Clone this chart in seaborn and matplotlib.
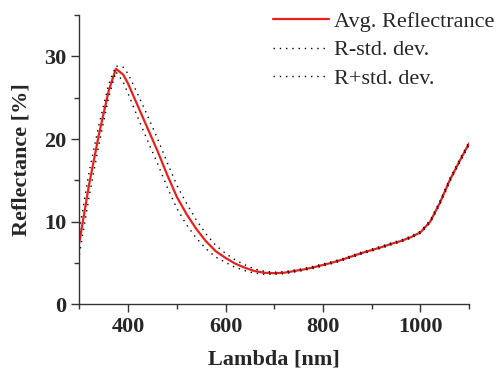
import matplotlib
matplotlib.use("Agg")
import matplotlib.pyplot as plt
import pandas as pd
import seaborn as sns
from matplotlib.ticker import MultipleLocator

# wavelength [nm], average reflectance [%] and standard deviation
wavelength = [300, 320, 340, 360, 375, 390, 400, 420, 440, 460, 480, 500, 520, 540,
              560, 580, 600, 620, 640, 660, 680, 700, 720, 740, 760, 780, 800, 820,
              840, 860, 880, 900, 920, 940, 960, 980, 1000, 1020, 1040, 1060, 1080, 1100]
avg_refl = [7.5, 14.5, 20.5, 25.8, 28.5, 27.8, 26.7, 24.0, 21.3, 18.6, 15.7, 13.0, 10.9,
            9.1, 7.6, 6.4, 5.6, 4.9, 4.4, 4.0, 3.8, 3.75, 3.8, 4.0, 4.2, 4.45, 4.75, 5.05,
            5.4, 5.8, 6.2, 6.55, 6.9, 7.3, 7.65, 8.1, 8.7, 10.0, 12.3, 15.0, 17.3, 19.5]
std_dev = [1.5, 1.5, 1.2, 0.8, 0.35, 0.9, 1.2, 1.4, 1.5, 1.5, 1.5, 1.4, 1.3, 1.1,
           0.9, 0.7, 0.55, 0.45, 0.35, 0.25, 0.18, 0.12, 0.12, 0.12, 0.12, 0.12, 0.12, 0.12,
           0.12, 0.12, 0.12, 0.12, 0.12, 0.12, 0.12, 0.12, 0.12, 0.15, 0.2, 0.2, 0.2, 0.2]

df = pd.DataFrame({"lam": wavelength, "avg": avg_refl, "std": std_dev})
df["low"] = df["avg"] - df["std"]
df["high"] = df["avg"] + df["std"]

sns.set_style("ticks")
plt.rcParams["font.family"] = ["Liberation Serif", "DejaVu Serif"]

fig = plt.figure(figsize=(4.96, 3.70), dpi=100)
ax = fig.add_axes([0.160, 0.178, 0.786, 0.781])

sns.lineplot(data=df, x="lam", y="avg", color="#e8201e", linewidth=1.6,
             label="Avg. Reflectrance", ax=ax)
sns.lineplot(data=df, x="lam", y="low", color="black", linewidth=1.0,
             linestyle=(0, (1, 3.5)), label="R-std. dev.", ax=ax)
sns.lineplot(data=df, x="lam", y="high", color="black", linewidth=1.0,
             linestyle=(0, (1, 3.5)), label="R+std. dev.", ax=ax)

ax.set_xlim(300, 1100)
ax.set_ylim(0, 35)
ax.xaxis.set_major_locator(MultipleLocator(200))
ax.xaxis.set_minor_locator(MultipleLocator(100))
ax.yaxis.set_major_locator(MultipleLocator(10))
ax.yaxis.set_minor_locator(MultipleLocator(5))
ax.tick_params(which="major", length=6, width=1, labelsize=16, color="#333333")
ax.tick_params(which="minor", length=3.5, width=1, color="#333333")
for lbl in ax.get_xticklabels() + ax.get_yticklabels():
    lbl.set_fontweight("bold")
for s in ["left", "bottom"]:
    ax.spines[s].set_color("#333333")
    ax.spines[s].set_linewidth(1)
sns.despine(ax=ax)

ax.set_xlabel("Lambda [nm]", fontsize=16, fontweight="bold", labelpad=9)
ax.set_ylabel("Reflectance [%]", fontsize=16, fontweight="bold", labelpad=9)

ax.legend(loc="upper right", bbox_to_anchor=(1.065, 1.014), frameon=False,
          fontsize=16, handlelength=2.5, handletextpad=0.25, borderpad=0,
          borderaxespad=0, labelspacing=0.37)

fig.savefig("out.png", dpi=100)
